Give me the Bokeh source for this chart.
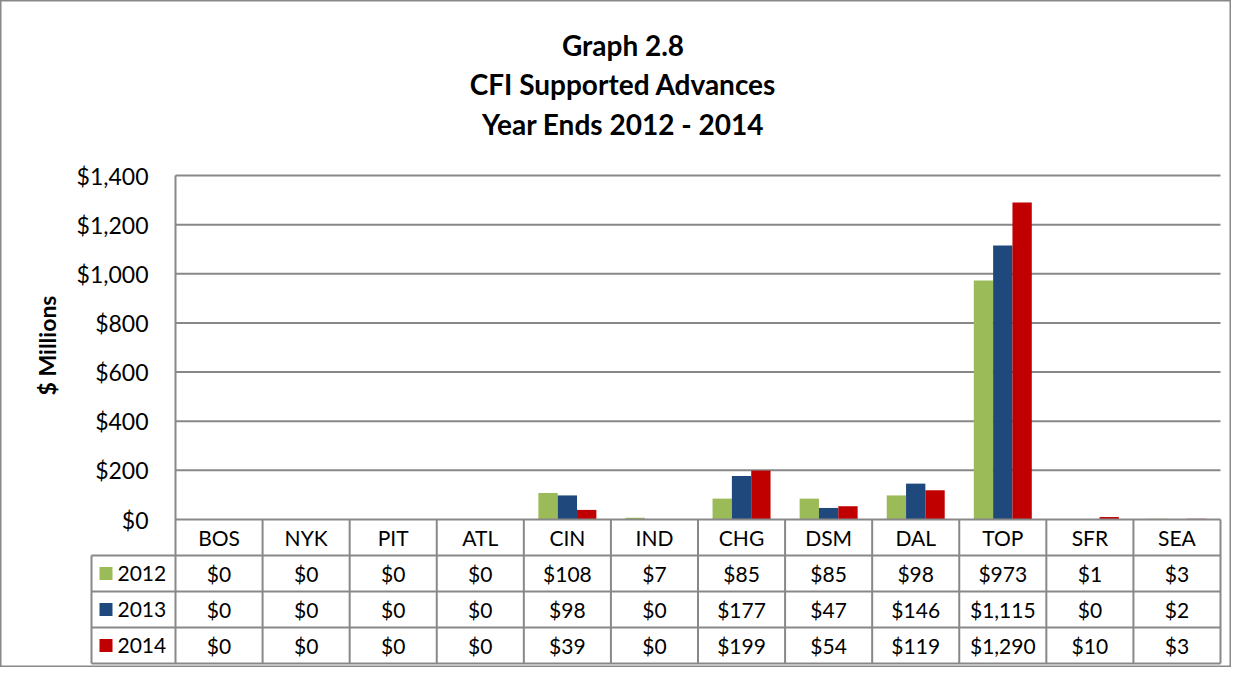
from bokeh.plotting import figure
from bokeh.models import Range1d, ColumnDataSource
from bokeh.core.properties import value
from bokeh.embed import file_html
from bokeh.resources import INLINE
import math

# ---------------- data ----------------
categories = ["BOS", "NYK", "PIT", "ATL", "CIN", "IND", "CHG", "DSM", "DAL", "TOP", "SFR", "SEA"]
years = ["2012", "2013", "2014"]
v2012 = [0, 0, 0, 0, 108, 7, 85, 85, 98, 973, 1, 3]
v2013 = [0, 0, 0, 0, 98, 0, 177, 47, 146, 1115, 0, 2]
v2014 = [0, 0, 0, 0, 39, 0, 199, 54, 119, 1290, 10, 3]
y_ticks = [0, 200, 400, 600, 800, 1000, 1200, 1400]
title_lines = ["Graph 2.8", "CFI Supported Advances", "Year Ends 2012 - 2014"]
y_label = "$ Millions"

series = [v2012, v2013, v2014]
colors = ["#9BBB59", "#1F497D", "#C00000"]

# ---------------- layout (pixels in figure) ----------------
FW, FH = 1231, 667
PL, PR, PT, PB = 175, 1220, 175, 519          # plot area
ROWS = [519, 555, 591, 627, 663]              # table row boundaries
TL = 91                                       # table legend column left
n = len(categories)
CW = (PR - PL) / n
PPU = (PB - PT) / y_ticks[-1]


def X(px):
    return (px - PL) / CW


def Y(py):
    return (PB - py) / PPU


FONT = value("Lato")
GRAY = "#888888"

p = figure(width=FW, height=FH, x_range=Range1d(X(0), X(FW)), y_range=Range1d(Y(FH), Y(0)),
           x_axis_type=None, y_axis_type=None, output_backend="svg", toolbar_location=None,
           min_border=0, background_fill_color="white", border_fill_color="white")
p.outline_line_color = GRAY
p.outline_line_width = 2
p.grid.visible = False

# grid lines
gt = y_ticks[1:]
p.segment(x0=[0] * len(gt), x1=[n] * len(gt), y0=gt, y1=gt, line_color=GRAY, line_width=2)

# bars
bw = 0.222
offsets = [-bw, 0, bw]
for vals, col, off, yr in zip(series, colors, offsets, years):
    src = ColumnDataSource(dict(x=[i + 0.5 + off for i in range(n)], top=vals))
    p.vbar(x="x", top="top", bottom=0, width=bw, source=src, fill_color=col, line_color=None)

# axis line / table top
p.segment(x0=[0], x1=[n], y0=[0], y1=[0], line_color=GRAY, line_width=2)
# left axis line down through table
p.segment(x0=[0], x1=[0], y0=[y_ticks[-1]], y1=[Y(ROWS[-1])], line_color=GRAY, line_width=2)
# table vertical lines
vx = list(range(1, n + 1))
p.segment(x0=vx, x1=vx, y0=[0] * len(vx), y1=[Y(ROWS[-1])] * len(vx), line_color=GRAY, line_width=2)
p.segment(x0=[X(TL)], x1=[X(TL)], y0=[Y(ROWS[1])], y1=[Y(ROWS[-1])], line_color=GRAY, line_width=2)
# table horizontal lines
hy = [Y(r) for r in ROWS[1:]]
p.segment(x0=[X(TL)] * len(hy), x1=[n] * len(hy), y0=hy, y1=hy, line_color=GRAY, line_width=2)

# y tick labels
p.text(x=[X(148)] * len(y_ticks), y=y_ticks, text=["$" + f"{t:,}" for t in y_ticks],
       text_align="right", text_baseline="middle", text_font=FONT, text_font_size="23px",
       text_color="#000000")

# y axis title
p.text(x=[X(46)], y=[Y(345)], text=[y_label], angle=math.pi / 2, text_align="center",
       text_baseline="middle", text_font=FONT, text_font_size="23px", text_font_style="bold",
       text_color="#000000")

# title
ty = [44, 83, 123]
p.text(x=[X(622.5)] * 3, y=[Y(t) for t in ty], text=title_lines, text_align="center",
       text_baseline="middle", text_font=FONT, text_font_size="28px", text_font_style="bold",
       text_color="#000000")

# header row
centers = [i + 0.5 for i in range(n)]
hc = (ROWS[0] + ROWS[1]) / 2
p.text(x=centers, y=[Y(hc)] * n, text=categories, text_align="center", text_baseline="middle",
       text_font=FONT, text_font_size="21px", text_color="#000000")

# data rows
for r, (vals, col, yr) in enumerate(zip(series, colors, years)):
    cy = Y((ROWS[r + 1] + ROWS[r + 2]) / 2)
    p.text(x=centers, y=[cy] * n, text=["$" + f"{v:,}" for v in vals], text_align="center",
           text_baseline="middle", text_font=FONT, text_font_size="21px", text_color="#000000")
    p.scatter(x=[X(105.5)], y=[cy], marker="square", size=13, fill_color=col, line_color=None)
    p.text(x=[X(117)], y=[cy], text=[yr], text_align="left", text_baseline="middle",
           text_font=FONT, text_font_size="21px", text_color="#000000")

open("out.html", "w").write(file_html(p, INLINE))
